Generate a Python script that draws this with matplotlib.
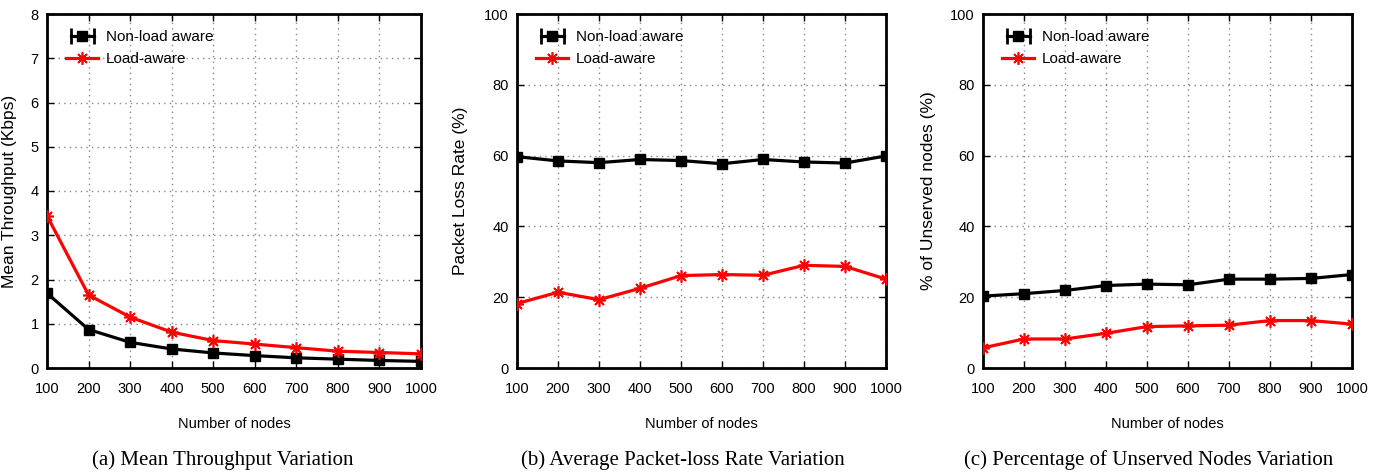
import matplotlib
matplotlib.use("Agg")
import matplotlib.pyplot as plt
from matplotlib.lines import Line2D
from matplotlib.legend_handler import HandlerLine2D, HandlerTuple

nodes = [100, 200, 300, 400, 500, 600, 700, 800, 900, 1000]

thr_nonload = [1.69, 0.87, 0.58, 0.43, 0.34, 0.28, 0.23, 0.20, 0.17, 0.15]
thr_load = [3.44, 1.65, 1.15, 0.81, 0.62, 0.54, 0.46, 0.38, 0.35, 0.32]

plr_nonload = [59.7, 58.5, 58.0, 58.9, 58.6, 57.7, 58.9, 58.2, 57.9, 59.9]
plr_load = [18.2, 21.4, 19.3, 22.5, 26.1, 26.4, 26.2, 29.0, 28.7, 25.1]

uns_nonload = [20.3, 21.0, 21.9, 23.3, 23.7, 23.5, 25.1, 25.1, 25.3, 26.4]
uns_load = [5.7, 8.2, 8.2, 9.8, 11.7, 11.9, 12.1, 13.4, 13.4, 12.4]

ylabels = ["Mean Throughput (Kbps)", "Packet Loss Rate (%)", "% of Unserved nodes (%)"]
yranges = [(0, 8, 1), (0, 100, 20), (0, 100, 20)]
captions = ["(a) Mean Throughput Variation",
            "(b) Average Packet-loss Rate Variation",
            "(c) Percentage of Unserved Nodes Variation"]
series_names = ["Non-load aware", "Load-aware"]

SANS = ["Liberation Sans", "DejaVu Sans"]
plt.rcParams['font.family'] = SANS

fig = plt.figure(figsize=(13.8, 4.72), dpi=100)
W, H = 1380.0, 472.0
lefts = [47, 517, 983]
rights = [421, 886, 1352]
top_px, bot_px = 14, 368
ylab_x = [17, 468, 936]
cap_x = [223, 683, 1149]

data = [(thr_nonload, thr_load), (plr_nonload, plr_load), (uns_nonload, uns_load)]

for i in range(3):
    l, r = lefts[i], rights[i]
    ax = fig.add_axes([l / W, 1 - bot_px / H, (r - l) / W, (bot_px - top_px) / H])
    nl, la = data[i]
    ax.plot(nodes, nl, color='black', lw=2.3, marker='s', markersize=7, zorder=3)
    ax.plot(nodes, la, color='#ff0000', lw=2.3, marker=(8, 2, 0), markersize=9,
            markeredgewidth=1.2, zorder=3)
    y0, y1, ys = yranges[i]
    ax.set_xlim(100, 1000)
    ax.set_ylim(y0, y1)
    ax.set_xticks(nodes)
    yt = list(range(y0, y1 + 1, ys))
    ax.set_yticks(yt)
    ax.tick_params(direction='in', top=True, right=True, length=5, width=1,
                   labelsize=10.5)
    ax.tick_params(axis='x', pad=10)
    ax.tick_params(axis='y', pad=6)
    for s in ax.spines.values():
        s.set_linewidth(2)
    ax.grid(True, color='#888888', linestyle=(0, (1, 3)), lw=1.0)
    ax.set_xlabel("Number of nodes", fontsize=10.5, labelpad=15)
    ax.set_ylabel(ylabels[i], fontsize=12.5)
    ax.yaxis.set_label_coords((ylab_x[i] - l) / (r - l), 0.5)

    cap_line = Line2D([], [], color='black', lw=2.3, marker='|', markersize=11,
                      markeredgewidth=2)
    sq = Line2D([], [], color='black', lw=0, marker='s', markersize=7.5)
    red = Line2D([], [], color='#ff0000', lw=2.3, marker=(8, 2, 0), markersize=9,
                 markeredgewidth=1.2)
    hm = {cap_line: HandlerLine2D(numpoints=2), sq: HandlerLine2D(numpoints=1),
          red: HandlerLine2D(numpoints=1)}
    hm[tuple] = HandlerTuple(ndivide=1)
    ax.legend([(cap_line, sq), red], series_names, loc='upper left',
              bbox_to_anchor=(0.035, 0.972), frameon=False, fontsize=11,
              handlelength=2.1, handletextpad=0.5, borderaxespad=0,
              labelspacing=0.55, handler_map=hm)

    fig.text(cap_x[i] / W, 1 - 460 / H, captions[i], ha='center', va='center',
             fontsize=15, family=["Liberation Serif", "DejaVu Serif"])

fig.savefig("out.png", dpi=100)
